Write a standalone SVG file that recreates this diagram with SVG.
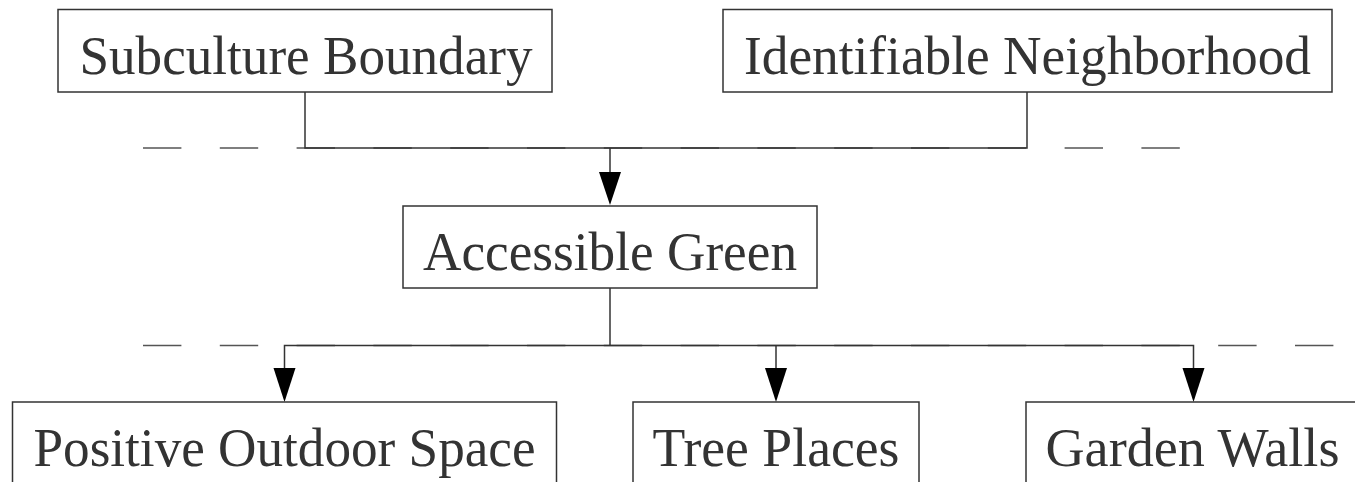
<svg xmlns="http://www.w3.org/2000/svg" width="1355" height="482" viewBox="0 0 1355 482">
<style>
.box{fill:#fff;stroke:#333;stroke-width:1.5}
.lbl{font-family:"Liberation Serif","Times New Roman",serif;font-size:55px;fill:#333;text-anchor:middle}
.dash{stroke:#555;stroke-width:1.5;stroke-dasharray:38.4 38.4;fill:none}
.wire{stroke:#333;stroke-width:1.5;fill:none}
.head{fill:#000}
</style>
<rect width="1355" height="482" fill="#fff"/>
<g id="guides">
<line class="dash" x1="143" y1="148" x2="1180" y2="148"/>
<line class="dash" x1="143" y1="345.5" x2="1334" y2="345.5"/>
</g>
<g id="connectors">
<polyline class="wire" points="305,92 305,148 1027,148 1027,92"/>
<line class="wire" x1="610" y1="148" x2="610" y2="172"/>
<path class="head" d="M599,172 L621,172 L610,205 Z"/>
<line class="wire" x1="610" y1="288" x2="610" y2="345.5"/>
<polyline class="wire" points="284.5,368 284.5,345.5 1193.5,345.5 1193.5,368"/>
<line class="wire" x1="776" y1="345.5" x2="776" y2="368"/>
<path class="head" d="M273.5,368 L295.5,368 L284.5,402 Z"/>
<path class="head" d="M765,368 L787,368 L776,402 Z"/>
<path class="head" d="M1182.5,368 L1204.5,368 L1193.5,402 Z"/>
</g>
<g id="subculture-boundary">
<rect class="box" x="58" y="9.5" width="494" height="82.5"/>
<text class="lbl" x="306" y="74" textLength="453" lengthAdjust="spacingAndGlyphs">Subculture Boundary</text>
</g>
<g id="identifiable-neighborhood">
<rect class="box" x="723" y="9.5" width="609" height="82.5"/>
<text class="lbl" x="1027.5" y="74" textLength="567" lengthAdjust="spacingAndGlyphs">Identifiable Neighborhood</text>
</g>
<g id="accessible-green">
<rect class="box" x="403" y="206" width="414" height="82"/>
<text class="lbl" x="610" y="270" textLength="374" lengthAdjust="spacingAndGlyphs">Accessible Green</text>
</g>
<g id="positive-outdoor-space">
<rect class="box" x="12.5" y="402" width="544" height="100"/>
<text class="lbl" x="284.5" y="466" textLength="502" lengthAdjust="spacingAndGlyphs">Positive Outdoor Space</text>
</g>
<g id="tree-places">
<rect class="box" x="633" y="402" width="286" height="100"/>
<text class="lbl" x="776" y="466" textLength="247" lengthAdjust="spacingAndGlyphs">Tree Places</text>
</g>
<g id="garden-walls">
<rect class="box" x="1026" y="402" width="340" height="100"/>
<text class="lbl" x="1192.5" y="466" textLength="294" lengthAdjust="spacingAndGlyphs">Garden Walls</text>
</g>
</svg>
